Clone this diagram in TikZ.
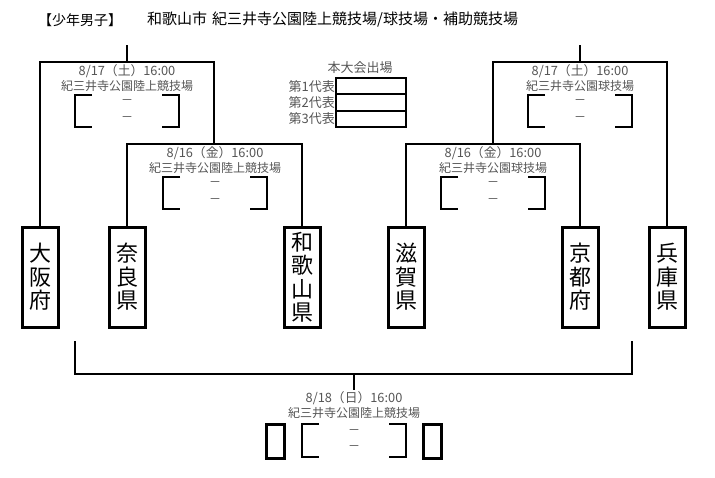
\documentclass[tikz,border=0pt]{standalone}
\usepackage{fontspec}
\setmainfont{Noto Sans CJK JP}
\usetikzlibrary{positioning}
\definecolor{txtgray}{HTML}{555555}
\begin{document}
\begin{tikzpicture}[x=1pt,y=-1pt,
  pref/.style={draw,line width=3pt,minimum width=36pt,minimum height=100pt,inner sep=0pt,align=center,font=\fontsize{22}{23.5}\selectfont},
  winbox/.style={draw,line width=3pt,minimum width=18pt,minimum height=34pt,inner sep=0pt},
  bracketline/.style={line width=2pt},
  scoreline/.style={line width=2pt},
  info/.style={text=txtgray,inner sep=0pt,font=\fontsize{12}{12}\selectfont},
  datetext/.style={text=txtgray,inner sep=0pt,font=\fontsize{12.8}{12}\selectfont},
  scorebar/.style={text=txtgray,inner sep=0pt,font=\fontsize{12}{12}\selectfont},
  headline/.style={inner sep=0pt,anchor=west,font=\fontsize{14}{14}\selectfont},
  cell/.style={draw,line width=2pt,minimum width=70pt,minimum height=16.3pt,inner sep=0pt,outer sep=0pt},
  reptext/.style={text=txtgray,inner sep=0pt,font=\fontsize{13}{13}\selectfont}]
  \useasboundingbox (0,0) rectangle (715,477);
  \node[headline] (title) at (38,20) {【少年男子】};
  \node[headline,font=\fontsize{15}{15}\selectfont] (place) at (147,20) {和歌山市\hspace{5pt}紀三井寺公園陸上競技場/球技場・補助競技場};
  \node[pref] (osaka) at (40,277) {大\\阪\\府};
  \node[pref] (nara) at (127,277) {奈\\良\\県};
  \node[pref] (waka) at (302,277) {和\\歌\\山\\県};
  \node[pref] (shiga) at (406,277) {滋\\賀\\県};
  \node[pref] (kyoto) at (580,277) {京\\都\\府};
  \node[pref] (hyogo) at (667,277) {兵\\庫\\県};
  \coordinate (m1) at (214,144);
  \coordinate (s1) at (127,62);
  \coordinate (t1) at (127,45);
  \coordinate (m2) at (493,144);
  \coordinate (s2) at (580,62);
  \coordinate (t2) at (580,45);
  \coordinate (b1) at (75,341);
  \coordinate (b2) at (632,341);
  \coordinate (f1) at (354,374);
  \coordinate (f2) at (354,390);
  \draw[bracketline] (nara.north) |- (m1) -| (waka.north);
  \draw[bracketline] (osaka.north) |- (s1) -| (m1);
  \draw[bracketline] (s1) -- (t1);
  \draw[bracketline] (shiga.north) |- (m2) -| (kyoto.north);
  \draw[bracketline] (m2) |- (s2) -| (hyogo.north);
  \draw[bracketline] (s2) -- (t2);
  \draw[bracketline] (b1) |- (f1) -| (b2);
  \draw[bracketline] (f1) -- (f2);
  \node[datetext] (date1) at (127,71) {8/17（土）16:00};
  \node[info] (venue1) at (127,86) {紀三井寺公園陸上競技場};
  \draw[scoreline] (92,95) -- (75,95) -- (75,127) -- (92,127) (162,95) -- (179,95) -- (179,127) -- (162,127);
  \node[scorebar] (sa1) at (127,102) {－};
  \node[scorebar] (sb1) at (127,119) {－};
  \node[datetext] (date2) at (215,153) {8/16（金）16:00};
  \node[info] (venue2) at (215,168) {紀三井寺公園陸上競技場};
  \draw[scoreline] (180,177) -- (163,177) -- (163,209) -- (180,209) (250,177) -- (267,177) -- (267,209) -- (250,209);
  \node[scorebar] (sa2) at (215,184) {－};
  \node[scorebar] (sb2) at (215,201) {－};
  \node[datetext] (date3) at (493,153) {8/16（金）16:00};
  \node[info] (venue3) at (493,168) {紀三井寺公園球技場};
  \draw[scoreline] (458,177) -- (441,177) -- (441,209) -- (458,209) (528,177) -- (545,177) -- (545,209) -- (528,209);
  \node[scorebar] (sa3) at (493,184) {－};
  \node[scorebar] (sb3) at (493,201) {－};
  \node[datetext] (date4) at (580,71) {8/17（土）16:00};
  \node[info] (venue4) at (580,86) {紀三井寺公園球技場};
  \draw[scoreline] (545,95) -- (528,95) -- (528,127) -- (545,127) (615,95) -- (632,95) -- (632,127) -- (615,127);
  \node[scorebar] (sa4) at (580,102) {－};
  \node[scorebar] (sb4) at (580,119) {－};
  \node[datetext] (date5) at (354,398) {8/18（日）16:00};
  \node[info] (venue5) at (354,413) {紀三井寺公園陸上競技場};
  \draw[scoreline] (319,424) -- (302,424) -- (302,457) -- (319,457) (389,424) -- (406,424) -- (406,457) -- (389,457);
  \node[scorebar] (sa5) at (354,432) {－};
  \node[scorebar] (sb5) at (354,448) {－};
  \node[winbox] (win1) at (275,441) {};
  \node[winbox] (win2) at (432.5,441) {};
  \node[reptext] (entry) at (360,68) {本大会出場};
  \node[cell] (r1) at (371,86.2) {};
  \node[cell,below=0pt of r1] (r2) {};
  \node[cell,below=0pt of r2] (r3) {};
  \node[reptext,left=1pt of r1] (rep1) {第1代表};
  \node[reptext,left=1pt of r2] (rep2) {第2代表};
  \node[reptext,left=1pt of r3] (rep3) {第3代表};
\end{tikzpicture}
\end{document}
